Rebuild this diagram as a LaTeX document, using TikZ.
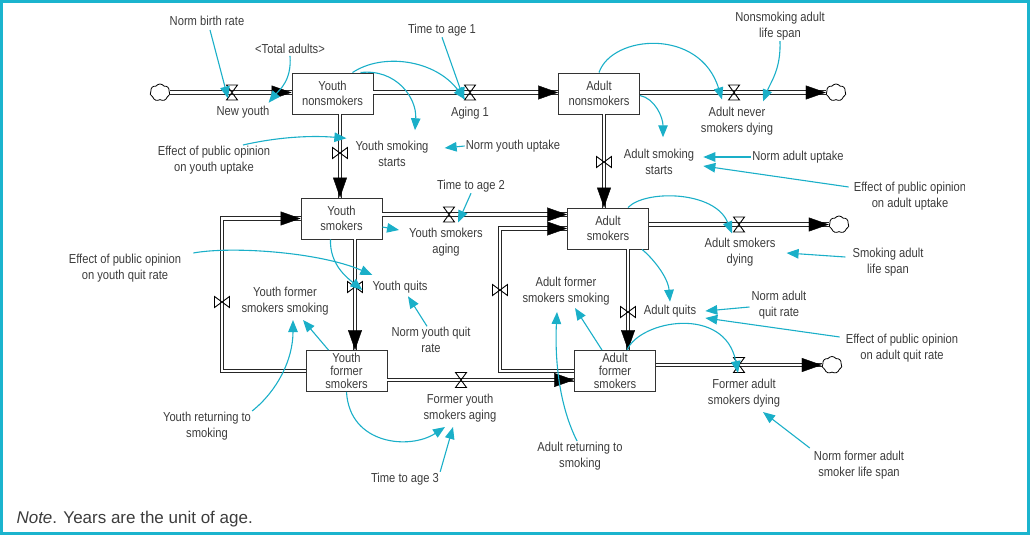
\documentclass[tikz,border=0pt]{standalone}
\usepackage{fontspec}
\setmainfont[FakeStretch=0.86]{Liberation Sans}
\newfontfamily\notefont{Liberation Sans}
\usetikzlibrary{arrows.meta,shapes.symbols}
\definecolor{linkcyan}{HTML}{1AAFC8}
\definecolor{framecyan}{HTML}{1BB4CE}
\definecolor{textgray}{HTML}{3C3C3C}
\newcommand{\lblfont}{\fontsize{13}{15.5}\selectfont}
\tikzset{
    stock/.style={rectangle,draw=black!80,line width=0.9pt,minimum width=81pt,minimum height=41pt,inner sep=0pt,align=center,text=textgray,font=\lblfont},
    lbl/.style={align=center,text=textgray,font=\lblfont,inner sep=1pt},
    sink/.style={cloud,cloud puffs=7,cloud puff arc=110,draw=black,line width=0.8pt,minimum width=20pt,minimum height=17pt,inner sep=0pt},
    pipe/.style={draw=black!85,line width=0.9pt,double=white,double distance=2.6pt},
    tip/.style={draw=white,line width=0.4pt,-{Triangle[length=20pt,width=14pt,color=black]}},
    link/.style={draw=linkcyan,line width=1.1pt,-{Triangle[length=12pt,width=9.5pt]}},
    valveh/.pic={\draw[line width=0.9pt] (-5.5,-7.5) -- (5.5,-7.5) -- (-5.5,7.5) -- (5.5,7.5) -- cycle;},
    valvev/.pic={\draw[line width=0.9pt] (-7.5,-5.5) -- (-7.5,5.5) -- (7.5,-5.5) -- (7.5,5.5) -- cycle;}
}

\begin{document}
\begin{tikzpicture}[x=1pt,y=-1pt]
\useasboundingbox (0,0) rectangle (1030,535);
\draw[framecyan,line width=3pt] (1.5,1.5) rectangle (1028.5,533.5);

\begin{scope}
\clip (0,0) rectangle (964,535);

% stocks
\node[stock] (ynon) at (332.5,93.5) {Youth\\nonsmokers};
\node[stock] (anon) at (599,93.5) {Adult\\nonsmokers};
\node[stock] (ysmk) at (341.5,218.5) {Youth\\smokers};
\node[stock] (asmk) at (608,228.5) {Adult\\smokers};
\node[stock,font=\fontsize{13}{13}\selectfont] (yfor) at (346.5,371) {Youth\\former\\smokers};
\node[stock,font=\fontsize{13}{13}\selectfont] (afor) at (615,371) {Adult\\former\\smokers};

% sources and sinks
\node[sink] (c1) at (160,92.5) {};
\node[sink] (c2) at (836,92.5) {};
\node[sink] (c3) at (839,224.5) {};
\node[sink] (c4) at (832,365) {};

% valves
\coordinate (vny) at (232,92.5);
\coordinate (vag1) at (470,92.5);
\coordinate (vand) at (734,92.5);
\coordinate (vyss) at (340,153);
\coordinate (vass) at (604,162);
\coordinate (vysa) at (449,214.5);
\coordinate (vasd) at (739,224.5);
\coordinate (vyq) at (355,287);
\coordinate (vaq) at (628,312);
\coordinate (vyfs) at (222,302);
\coordinate (vafs) at (500,290);
\coordinate (vfya) at (461,380);
\coordinate (vfad) at (739,365);

% flows
\draw[pipe] (c1.east |- vny) -- (ynon.west |- vny);
\draw[pipe] (ynon.east |- vag1) -- (anon.west |- vag1);
\draw[pipe] (anon.east |- vand) -- (c2.west |- vand);
\draw[pipe] (ynon.south -| vyss) -- (ysmk.north -| vyss);
\draw[pipe] (anon.south -| vass) -- (asmk.north -| vass);
\draw[pipe] (ysmk.east |- vysa) -- (asmk.west |- vysa);
\draw[pipe] (asmk.east |- vasd) -- (c3.west |- vasd);
\draw[pipe] (ysmk.south -| vyq) -- (yfor.north -| vyq);
\draw[pipe] (asmk.south -| vaq) -- (afor.north -| vaq);
\draw[pipe] (yfor.west) -- (yfor.west -| vyfs) -- (ysmk.west -| vyfs) -- (ysmk.west);
\draw[pipe] (afor.west) -- (afor.west -| vafs) -- (asmk.west -| vafs) -- (asmk.west);
\draw[pipe] (yfor.east |- vfya) -- (afor.west |- vfya);
\draw[pipe] (afor.east |- vfad) -- (c4.west |- vfad);

% flow arrowheads
\draw[tip] (vny) -- (ynon.west |- vny);
\draw[tip] (vag1) -- (anon.west |- vag1);
\draw[tip] (vand) -- (c2.west |- vand);
\draw[tip] (vyss) -- (ysmk.north -| vyss);
\draw[tip] (vass) -- (asmk.north -| vass);
\draw[tip] (vysa) -- (asmk.west |- vysa);
\draw[tip] (vasd) -- (c3.west |- vasd);
\draw[tip] (vyq) -- (yfor.north -| vyq);
\draw[tip] (vaq) -- (afor.north -| vaq);
\draw[tip] (ysmk.west -| vyfs) -- (ysmk.west);
\draw[tip] (asmk.west -| vafs) -- (asmk.west);
\draw[tip] (vfya) -- (afor.west |- vfya);
\draw[tip] (vfad) -- (c4.west |- vfad);

\pic at (vny) {valveh};
\pic at (vag1) {valveh};
\pic at (vand) {valveh};
\pic at (vysa) {valveh};
\pic at (vasd) {valveh};
\pic at (vfya) {valveh};
\pic at (vfad) {valveh};
\pic at (vyss) {valvev};
\pic at (vass) {valvev};
\pic at (vyq) {valvev};
\pic at (vaq) {valvev};
\pic at (vyfs) {valvev};
\pic at (vafs) {valvev};

% variables
\node[lbl] (nbr) at (207,21) {Norm birth rate};
\node[lbl] (tadult) at (290,49) {<Total adults>};
\node[lbl] (ny) at (243,112) {New youth};
\node[lbl] (tta1) at (442,30) {Time to age 1};
\node[lbl] (ag1) at (470,113) {Aging 1};
\node[lbl] (ysst) at (392,154) {Youth smoking\\starts};
\node[lbl] (nyu) at (513,146) {Norm youth uptake};
\node[lbl] (eoyu) at (214,160) {Effect of public opinion\\on youth uptake};
\node[lbl] (tta2) at (471,186) {Time to age 2};
\node[lbl] (nsal) at (780,26) {Nonsmoking adult\\life span};
\node[lbl] (ands) at (737,121) {Adult never\\smokers dying};
\node[lbl] (asst) at (659,162) {Adult smoking\\starts};
\node[lbl] (nau) at (798,157) {Norm adult uptake};
\node[lbl] (eoau) at (910,196) {Effect of public opinion\\on adult uptake};
\node[lbl] (asd) at (740,252) {Adult smokers\\dying};
\node[lbl] (sals) at (888,262) {Smoking adult\\life span};
\node[lbl] (naqr) at (779,305) {Norm adult\\quit rate};
\node[lbl] (aq) at (670,311) {Adult quits};
\node[lbl] (eoaq) at (902,348) {Effect of public opinion\\on adult quit rate};
\node[lbl] (afss) at (566,291) {Adult former\\smokers smoking};
\node[lbl] (fasd) at (744,393) {Former adult\\smokers dying};
\node[lbl] (arts) at (580,456) {Adult returning to\\smoking};
\node[lbl] (nfasl) at (859,465) {Norm former adult\\smoker life span};
\node[lbl] (eoyq) at (125,268) {Effect of public opinion\\on youth quit rate};
\node[lbl] (yfss) at (285,301) {Youth former\\smokers smoking};
\node[lbl] (yssa) at (446,242) {Youth smokers\\aging};
\node[lbl] (yq) at (400,287) {Youth quits};
\node[lbl] (nyqr) at (431,340) {Norm youth quit\\rate};
\node[lbl] (yrts) at (207,426) {Youth returning to\\smoking};
\node[lbl] (fysa) at (460,408) {Former youth\\smokers aging};
\node[lbl] (tta3) at (405,479) {Time to age 3};

% links
\draw[link] ([shift={(3,3)}]nbr.south) -- ([shift={(-4,6)}]vny);
\draw[link] ([shift={(0,1)}]tadult.south) .. controls +(2,25) and +(10,-12) .. ([shift={(-2,-2)}]ny.north east);
\draw[link] ([shift={(20,0)}]ynon.north) .. controls +(30,-20) and +(-30,-40) .. ([shift={(-5,7)}]vag1);
\draw[link] ([shift={(28,0)}]ynon.north) .. controls +(35,-4) and +(2,-33) .. ([shift={(23,-10)}]ysst.north);
\draw[link] (tta1.south) -- ([shift={(-6,7)}]vag1);
\draw[link] ([shift={(29,0)}]eoyu.north) .. controls +(35,-8) and +(-35,-3) .. ([shift={(-8,-2)}]ysst.north west);
\draw[link] (nyu.west) -- ([shift={(15,-6)}]ysst.east);
\draw[link] (anon.north) .. controls +(13,-38) and +(-22,-72) .. ([shift={(-12,7)}]vand);
\draw[link] (nsal.south) .. controls +(1,28) and +(8,-20) .. ([shift={(29,9)}]vand);
\draw[link] ([shift={(0,2)}]anon.east) .. controls +(15,3) and +(0,-20) .. ([shift={(4,-11)}]asst.north);
\draw[link] (nau.west) -- ([shift={(8,-5)}]asst.east);
\draw[link] ([shift={(-4,6)}]eoau.north west) -- ([shift={(8,4)}]asst.east);
\draw[link] (tta2.south) -- ([shift={(9,8)}]vysa);
\draw[link] ([shift={(0,8.5)}]ysmk.east) -- ([shift={(-9,-12)}]yssa.west);
\draw[link] ([shift={(-11,0)}]ysmk.south) .. controls +(-1,25) and +(-15,-12) .. ([shift={(-9,3)}]yq.west);
\draw[link] ([shift={(11,0)}]eoyq.north east) .. controls +(38,-7) and +(-53,-23) .. ([shift={(1,-12)}]yq.west);
\draw[link] ([shift={(-4,0)}]nyqr.north) -- ([shift={(8,2)}]yq.south);
\draw[link] ([shift={(-18,0)}]yfor.north) -- ([shift={(18,4)}]yfss.south);
\draw[link] (yrts.north east) .. controls +(25,-20) and +(0,40) .. ([shift={(8,4)}]yfss.south);
\draw[link] (yfor.south) .. controls +(3,53) and +(-35,23) .. ([shift={(-15,4)}]fysa.south);
\draw[link] (tta3.north east) -- ([shift={(-7,4)}]fysa.south);
\draw[link] ([shift={(20,0)}]asmk.north) .. controls +(17,-18) and +(-17,-43) .. ([shift={(-7,9)}]vasd);
\draw[link] ([shift={(-6,-5)}]sals.west) -- ([shift={(10,1)}]asd.east);
\draw[link] ([shift={(34,0)}]asmk.south) .. controls +(10,8) and +(-2,-25) .. ([shift={(0,-2)}]aq.north);
\draw[link] ([shift={(-1,2)}]naqr.west) -- ([shift={(8,0)}]aq.east);
\draw[link] ([shift={(-5,4)}]eoaq.north west) -- ([shift={(8,7)}]aq.east);
\draw[link] ([shift={(-13,0)}]afor.north) -- ([shift={(9,2)}]afss.south);
\draw[link] ([shift={(-3,0)}]arts.north) .. controls +(-20,-40) and +(-2,40) .. ([shift={(-9,6)}]afss.south);
\draw[link] ([shift={(12,0)}]afor.north) .. controls +(13,-30) and +(-13,-68) .. ([shift={(-1,8)}]vfad);
\draw[link] ([shift={(-3,-2)}]nfasl.north west) -- ([shift={(19,4)}]fasd.south);
\end{scope}

\node[anchor=base west,text=textgray,font=\notefont\fontsize{17}{20}\selectfont] (note) at (13,523) {\textit{Note}. Years are the unit of age.};
\end{tikzpicture}
\end{document}
